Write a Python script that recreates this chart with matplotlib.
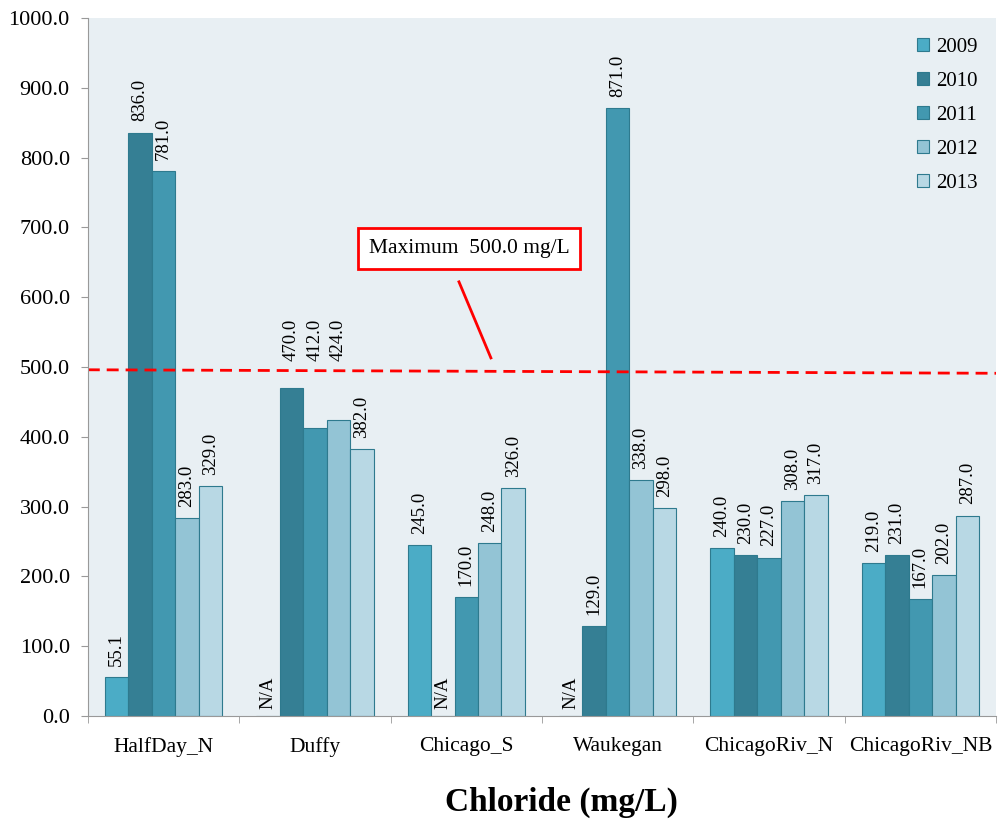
import numpy as np
import matplotlib.pyplot as plt

plt.rcParams['font.family'] = ['Liberation Serif', 'DejaVu Serif']

sites = ["HalfDay_N", "Duffy", "Chicago_S", "Waukegan", "ChicagoRiv_N", "ChicagoRiv_NB"]
years = ["2009", "2010", "2011", "2012", "2013"]
# None = N/A
v2009 = [55.1, None, 245.0, None, 240.0, 219.0]
v2010 = [836.0, 470.0, None, 129.0, 230.0, 231.0]
v2011 = [781.0, 412.0, 170.0, 871.0, 227.0, 167.0]
v2012 = [283.0, 424.0, 248.0, 338.0, 308.0, 202.0]
v2013 = [329.0, 382.0, 326.0, 298.0, 317.0, 287.0]
series = [v2009, v2010, v2011, v2012, v2013]

limit_start, limit_end = 496, 491
limit_label = "Maximum  500.0 mg/L"

colors = ["#4BACC6", "#357F94", "#4298B0", "#93C4D5", "#B8D8E4"]
edge = "#2E7A8E"

fig = plt.figure(figsize=(9.98, 8.21), dpi=100)
ax = fig.add_axes([0.088, 0.128, 0.910, 0.850])
ax.set_facecolor("#E8EFF3")

# labels pushed up above the limit line (Duffy group, like the original)
lifted = {(1, 1), (2, 1), (3, 1)}

x = np.arange(len(sites))
w = 0.155
for i, (yr, vals) in enumerate(zip(years, series)):
    pos = x + (i - 2) * w
    h = [v if v is not None else 0 for v in vals]
    ax.bar(pos, h, w, color=colors[i], edgecolor=edge, linewidth=0.8, label=yr)
    for j, (p, v) in enumerate(zip(pos, vals)):
        if v is None:
            ax.text(p, 10, "N/A", rotation=90, ha="center", va="bottom", fontsize=13.5)
        else:
            ly = 508 if (i, j) in lifted else v + 16
            ax.text(p, ly, f"{v:.1f}", rotation=90, ha="center", va="bottom", fontsize=13.5)

ax.set_xlim(-0.5, len(sites) - 0.5)
ax.set_ylim(0, 1000)
yt = np.arange(0, 1001, 100)
ax.set_yticks(yt)
ax.set_yticklabels([f"{t:.1f}" for t in yt], fontsize=16)
ax.set_xticks(x)
ax.set_xticklabels(sites, fontsize=15.5)
ax.tick_params(axis="x", length=0, pad=15)
ax.set_xticks(np.arange(-0.5, len(sites)), minor=True)
ax.tick_params(axis="x", which="minor", length=5, color="#999999")
ax.tick_params(axis="y", length=5, color="#999999", pad=8)
for s in ["top", "right"]:
    ax.spines[s].set_visible(False)
ax.spines["left"].set_color("#999999")
ax.spines["bottom"].set_color("#999999")

# limit line + callout
ax.plot([-0.5, 5.5], [limit_start, limit_end], color="red", linewidth=2, dashes=(4.3, 2.5))
ax.text(2.02, 670, limit_label, fontsize=15.5, ha="center", va="center",
        bbox=dict(boxstyle="square,pad=0.5", fc="white", ec="red", lw=2))
ax.plot([1.952, 2.163], [622, 513], color="red", linewidth=2)

ax.legend(loc="upper right", frameon=False, fontsize=15, handlelength=0.6,
          handleheight=0.6, handletextpad=0.3, labelspacing=0.72,
          bbox_to_anchor=(1.0, 0.998))

fig.text(0.563, 0.023, "Chloride (mg/L)", ha="center", va="center",
         fontsize=24, fontweight="bold")

fig.savefig("out.png", dpi=100)
